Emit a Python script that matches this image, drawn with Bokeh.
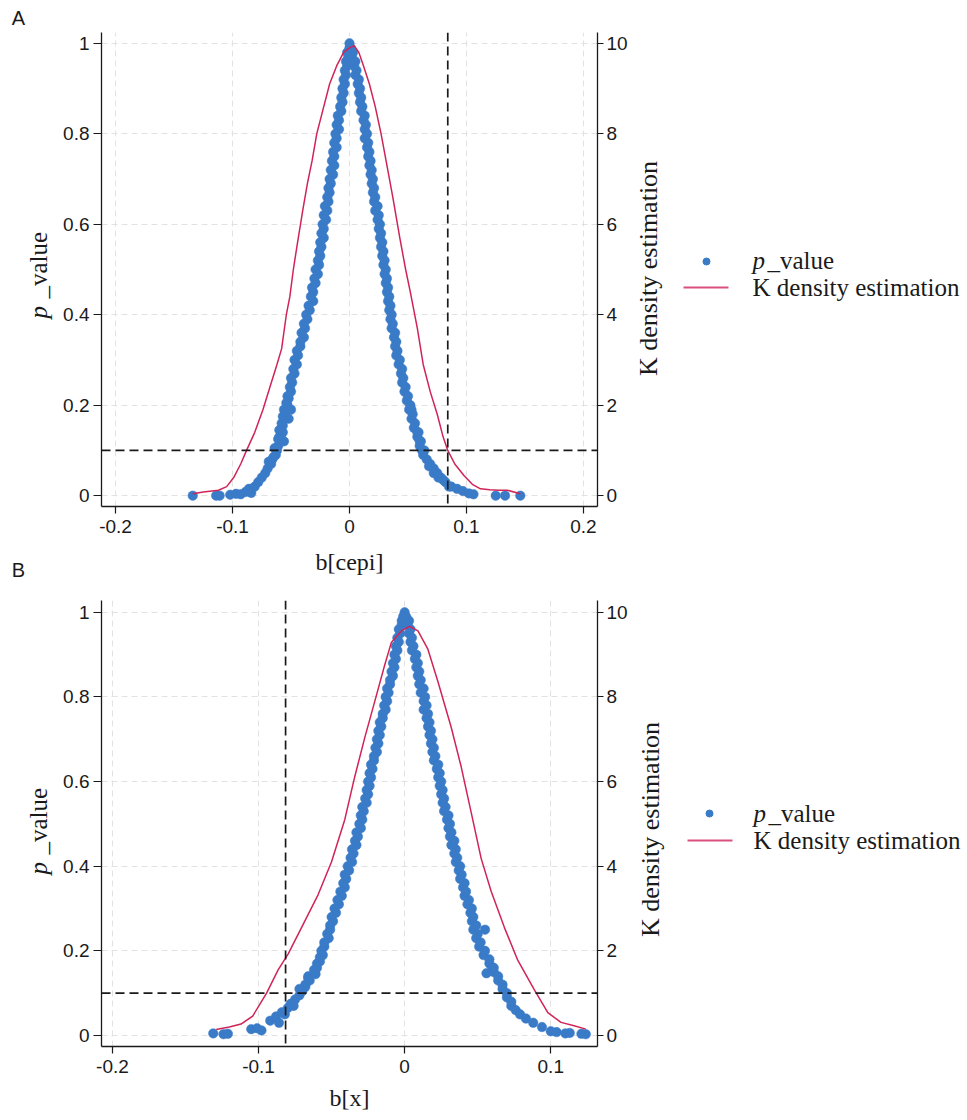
import math
from bokeh.plotting import figure
from bokeh.layouts import column, row
from bokeh.models import Range1d, LinearAxis, FixedTicker, Span
from bokeh.embed import file_html
from bokeh.resources import INLINE
from bokeh.core.properties import value

# ---------------- data: panel A ----------------
a_scatter_x = [-0.134, -0.114, -0.111, -0.102, -0.097, -0.093, -0.089, -0.084, -0.086, -0.081,
               -0.078, -0.075, -0.072, -0.070, -0.067, -0.066, -0.063, -0.062, -0.061, -0.059,
               -0.059, -0.057, -0.057, -0.055, -0.055, -0.053, -0.052, -0.050, -0.049, -0.047,
               -0.045, -0.044, -0.042, -0.039, -0.038, -0.036, -0.034, -0.031, -0.031, -0.029,
               -0.027, -0.026, -0.025, -0.024, -0.022, -0.022, -0.020, -0.019, -0.018, -0.017,
               -0.016, -0.014, -0.013, -0.013, -0.011, -0.011, -0.009, -0.009, -0.007, -0.006,
               -0.005, -0.004, -0.003, -0.002, -0.001, 0.000, 0.000,
               -0.060, -0.056, -0.052, -0.050, -0.065, -0.069,
               0.001, 0.002, 0.004, 0.005, 0.007, 0.008, 0.009, 0.010, 0.012, 0.013,
               0.013, 0.015, 0.016, 0.017, 0.018, 0.019, 0.020, 0.021, 0.022, 0.024,
               0.025, 0.026, 0.027, 0.028, 0.029, 0.030, 0.031, 0.032, 0.033, 0.034,
               0.035, 0.036, 0.038, 0.039, 0.040, 0.042, 0.044, 0.045, 0.047, 0.049,
               0.051, 0.053, 0.055, 0.058, 0.060, 0.062, 0.063, 0.066, 0.069, 0.072,
               0.075, 0.078, 0.082, 0.087, 0.092, 0.097, 0.102, 0.106,
               0.060, 0.064, 0.058, 0.053, 0.068, 0.072, 0.076, 0.085, 0.080,
               0.125, 0.133, 0.146]
a_scatter_p = [0.000, 0.000, 0.000, 0.002, 0.004, 0.003, 0.008, 0.006, 0.015, 0.020,
               0.03, 0.04, 0.05, 0.06, 0.07, 0.08, 0.09, 0.10, 0.11, 0.12,
               0.13, 0.14, 0.155, 0.17, 0.185, 0.20, 0.215, 0.23, 0.25, 0.27,
               0.29, 0.31, 0.33, 0.35, 0.37, 0.39, 0.41, 0.43, 0.45, 0.47,
               0.49, 0.51, 0.53, 0.55, 0.57, 0.59, 0.61, 0.63, 0.65, 0.67,
               0.69, 0.71, 0.73, 0.75, 0.77, 0.79, 0.81, 0.83, 0.85, 0.87,
               0.89, 0.91, 0.93, 0.95, 0.97, 0.99, 1.00,
               0.13, 0.12, 0.17, 0.19, 0.085, 0.075,
               0.99, 0.97, 0.95, 0.93, 0.91, 0.89, 0.87, 0.85, 0.83, 0.81,
               0.79, 0.77, 0.75, 0.73, 0.71, 0.69, 0.67, 0.65, 0.63, 0.61,
               0.59, 0.57, 0.55, 0.53, 0.51, 0.49, 0.47, 0.45, 0.43, 0.41,
               0.39, 0.37, 0.35, 0.33, 0.31, 0.29, 0.27, 0.25, 0.23, 0.21,
               0.19, 0.17, 0.15, 0.13, 0.11, 0.10, 0.09, 0.08, 0.07, 0.06,
               0.05, 0.04, 0.03, 0.02, 0.015, 0.01, 0.005, 0.003,
               0.12, 0.10, 0.14, 0.19, 0.065, 0.05, 0.04, 0.02, 0.035,
               0.000, 0.000, 0.000]
# outer edge of the dense band (panel A)
a_band_x = [-0.053, -0.051, -0.050, -0.048, -0.047, -0.045, -0.042, -0.041, -0.039, -0.037,
            -0.035, -0.033, -0.032, -0.030, -0.029, -0.027, -0.026, -0.025, -0.024, -0.023,
            -0.022, -0.021, -0.019, -0.018, -0.017, -0.016, -0.015, -0.014, -0.013, -0.012,
            -0.011, -0.010, -0.008, -0.007, -0.006, -0.005, -0.004, -0.003, -0.002,
            -0.064, -0.061, -0.060, -0.058, -0.057, -0.056, -0.054,
            0.003, 0.005, 0.006, 0.008, 0.009, 0.010, 0.011, 0.013, 0.014, 0.015,
            0.016, 0.017, 0.018, 0.019, 0.020, 0.021, 0.022, 0.024, 0.025, 0.026,
            0.027, 0.028, 0.029, 0.030, 0.031, 0.032, 0.033, 0.034, 0.035, 0.036,
            0.037, 0.039, 0.040, 0.041, 0.043, 0.045, 0.046, 0.048, 0.050, 0.052,
            0.054, 0.056, 0.059, 0.061]
a_band_p = [0.22, 0.24, 0.26, 0.28, 0.30, 0.32, 0.34, 0.36, 0.38, 0.40,
            0.42, 0.44, 0.46, 0.48, 0.50, 0.52, 0.54, 0.56, 0.58, 0.60,
            0.62, 0.64, 0.66, 0.68, 0.70, 0.72, 0.74, 0.76, 0.78, 0.80,
            0.82, 0.84, 0.86, 0.88, 0.90, 0.92, 0.94, 0.96, 0.98,
            0.105, 0.125, 0.145, 0.16, 0.175, 0.19, 0.205,
            0.98, 0.96, 0.94, 0.92, 0.90, 0.88, 0.86, 0.84, 0.82, 0.80,
            0.78, 0.76, 0.74, 0.72, 0.70, 0.68, 0.66, 0.64, 0.62, 0.60,
            0.58, 0.56, 0.54, 0.52, 0.50, 0.48, 0.46, 0.44, 0.42, 0.40,
            0.38, 0.36, 0.34, 0.32, 0.30, 0.28, 0.26, 0.24, 0.22, 0.20,
            0.18, 0.16, 0.14, 0.12]
a_kde_x = [-0.134, -0.125, -0.112, -0.105, -0.099, -0.093, -0.088, -0.081, -0.074, -0.068,
           -0.062, -0.058, -0.054, -0.051, -0.048, -0.045, -0.040, -0.036, -0.032, -0.028,
           -0.022, -0.017, -0.011, -0.005, 0.000, 0.004, 0.008, 0.012, 0.017, 0.022,
           0.027, 0.032, 0.037, 0.043, 0.048, 0.052, 0.058, 0.063, 0.069, 0.075,
           0.080, 0.084, 0.090, 0.098, 0.105, 0.112, 0.120, 0.128, 0.135, 0.146]
a_kde_d = [0.04, 0.08, 0.12, 0.20, 0.40, 0.70, 1.00, 1.40, 1.90, 2.40,
           2.90, 3.25, 4.00, 4.40, 5.00, 5.50, 6.30, 6.90, 7.40, 8.00,
           8.60, 9.10, 9.50, 9.80, 9.90, 9.95, 9.80, 9.50, 9.10, 8.60,
           8.00, 7.30, 6.60, 5.70, 5.00, 4.50, 3.70, 2.90, 2.30, 1.80,
           1.30, 1.00, 0.70, 0.44, 0.25, 0.15, 0.13, 0.12, 0.12, 0.04]
a_x_ticks = [-0.2, -0.1, 0.0, 0.1, 0.2]
a_x_labels = ["-0.2", "-0.1", "0", "0.1", "0.2"]
a_vline = 0.084
a_xtitle = "b[cepi]"

# ---------------- data: panel B ----------------
b_scatter_x = [-0.131, -0.124, -0.121, -0.105, -0.101, -0.098,
               -0.092, -0.088, -0.086, -0.084, -0.080, -0.082, -0.078, -0.075, -0.076, -0.072,
               -0.070, -0.072, -0.068, -0.065, -0.066, -0.061, -0.060, -0.058, -0.056, -0.055,
               -0.052, -0.051, -0.049, -0.047, -0.045, -0.043, -0.041, -0.040, -0.038, -0.036,
               -0.035, -0.033, -0.032, -0.030, -0.029, -0.028, -0.026, -0.025, -0.024, -0.023,
               -0.022, -0.021, -0.019, -0.018, -0.017, -0.016, -0.015, -0.013, -0.012, -0.011,
               -0.010, -0.008, -0.007, -0.006, -0.005, -0.004, -0.003, -0.002, -0.001, 0.000,
               0.001, 0.002, 0.003, 0.004, 0.005, 0.007, 0.008, 0.009, 0.010, 0.011,
               0.013, 0.013, 0.015, 0.016, 0.017, 0.018, 0.019, 0.020, 0.022, 0.023,
               0.024, 0.025, 0.026, 0.027, 0.029, 0.030, 0.031, 0.032, 0.034, 0.035,
               0.037, 0.038, 0.040, 0.041, 0.043, 0.045, 0.046, 0.047, 0.049, 0.051,
               0.054, 0.058, 0.061, 0.064, 0.067, 0.070, 0.073, 0.076, 0.079, 0.083,
               0.088, 0.094, 0.100, 0.104, 0.110, 0.113, 0.121, 0.124,
               0.056, 0.055, 0.060]
b_scatter_p = [0.005, 0.003, 0.004, 0.015, 0.017, 0.012,
               0.035, 0.045, 0.030, 0.055, 0.065, 0.050, 0.075, 0.085, 0.070, 0.095,
               0.105, 0.110, 0.115, 0.130, 0.140, 0.145, 0.160, 0.175, 0.190, 0.210,
               0.23, 0.25, 0.27, 0.29, 0.31, 0.33, 0.35, 0.37, 0.39, 0.41,
               0.43, 0.45, 0.47, 0.49, 0.51, 0.53, 0.55, 0.57, 0.59, 0.61,
               0.63, 0.65, 0.67, 0.69, 0.71, 0.73, 0.75, 0.77, 0.79, 0.81,
               0.83, 0.85, 0.87, 0.89, 0.91, 0.93, 0.95, 0.97, 0.99, 1.00,
               0.99, 0.97, 0.95, 0.93, 0.91, 0.89, 0.87, 0.85, 0.83, 0.81,
               0.79, 0.77, 0.75, 0.73, 0.71, 0.69, 0.67, 0.65, 0.63, 0.61,
               0.59, 0.57, 0.55, 0.53, 0.51, 0.49, 0.47, 0.45, 0.43, 0.41,
               0.39, 0.37, 0.35, 0.33, 0.31, 0.29, 0.27, 0.25, 0.23, 0.21,
               0.19, 0.17, 0.15, 0.13, 0.11, 0.09, 0.07, 0.06, 0.05, 0.04,
               0.03, 0.02, 0.01, 0.008, 0.005, 0.006, 0.004, 0.003,
               0.147, 0.25, 0.16]
# outer edge of the dense band (panel B)
b_band_x = [-0.055, -0.053, -0.051, -0.050, -0.048, -0.046, -0.044, -0.042, -0.041, -0.039,
            -0.037, -0.036, -0.034, -0.033, -0.031, -0.030, -0.029, -0.027, -0.026, -0.025,
            -0.024, -0.023, -0.021, -0.020, -0.019, -0.018, -0.017, -0.015, -0.014, -0.013,
            -0.012, -0.010, -0.009, -0.008, -0.007, -0.006, -0.005, -0.004, -0.002,
            -0.068, -0.066, -0.062, -0.060, -0.058, -0.057,
            0.003, 0.004, 0.005, 0.006, 0.008, 0.009, 0.010, 0.011, 0.013, 0.014,
            0.015, 0.016, 0.017, 0.018, 0.019, 0.020, 0.021, 0.023, 0.024, 0.025,
            0.026, 0.027, 0.028, 0.030, 0.031, 0.032, 0.034, 0.035, 0.036, 0.038,
            0.039, 0.041, 0.042, 0.044, 0.046, 0.047, 0.049, 0.050, 0.052, 0.055,
            0.058, 0.061, 0.064, 0.067, 0.070, 0.073]
b_band_p = [0.22, 0.24, 0.26, 0.28, 0.30, 0.32, 0.34, 0.36, 0.38, 0.40,
            0.42, 0.44, 0.46, 0.48, 0.50, 0.52, 0.54, 0.56, 0.58, 0.60,
            0.62, 0.64, 0.66, 0.68, 0.70, 0.72, 0.74, 0.76, 0.78, 0.80,
            0.82, 0.84, 0.86, 0.88, 0.90, 0.92, 0.94, 0.96, 0.98,
            0.12, 0.135, 0.155, 0.17, 0.185, 0.20,
            0.98, 0.96, 0.94, 0.92, 0.90, 0.88, 0.86, 0.84, 0.82, 0.80,
            0.78, 0.76, 0.74, 0.72, 0.70, 0.68, 0.66, 0.64, 0.62, 0.60,
            0.58, 0.56, 0.54, 0.52, 0.50, 0.48, 0.46, 0.44, 0.42, 0.40,
            0.38, 0.36, 0.34, 0.32, 0.30, 0.28, 0.26, 0.24, 0.22, 0.20,
            0.18, 0.16, 0.14, 0.12, 0.10, 0.08]
b_kde_x = [-0.129, -0.120, -0.112, -0.104, -0.0945, -0.0866, -0.0797, -0.0706, -0.0592, -0.0501,
           -0.041, -0.0342, -0.0273, -0.0205, -0.0137, -0.0091, -0.0023, 0.0034, 0.0091, 0.0159,
           0.0228, 0.0319, 0.0387, 0.0456, 0.0524, 0.0592, 0.0683, 0.0774, 0.0888, 0.098,
           0.107, 0.116, 0.124]
b_kde_d = [0.14, 0.20, 0.27, 0.46, 1.00, 1.55, 1.93, 2.55, 3.33, 4.10,
           5.10, 6.11, 7.04, 7.89, 8.75, 9.29, 9.56, 9.67, 9.56, 9.13,
           8.36, 7.28, 6.35, 5.26, 4.18, 3.41, 2.55, 1.78, 1.08, 0.54,
           0.31, 0.23, 0.15]
b_x_ticks = [-0.2, -0.1, 0.0, 0.1]
b_x_labels = ["-0.2", "-0.1", "0", "0.1"]
b_vline = -0.0815
b_xtitle = "b[x]"

p_ticks = [0, 0.2, 0.4, 0.6, 0.8, 1]
p_labels = ["0", "0.2", "0.4", "0.6", "0.8", "1"]
d_ticks = [0, 2, 4, 6, 8, 10]
hline = 0.1

ytitle_parts = ["p", "_value"]
y2title = "K density estimation"
legend_labels = ["p", "_value", "K density estimation"]
panel_letters = ["A", "B"]

BLUE = "#3a7bc8"
RED = "#d02458"
INK = "#1a1a1a"
SANS = "Liberation Sans"
SERIF = "Liberation Serif"
PI2 = math.pi / 2

STRIP_W, MAIN_L, FRAME_W, MAIN_R, SIDE_W = 60, 41, 496, 35, 330


def style_axis(ax, ticks=None, labels=None):
    ax.axis_line_color = INK
    ax.axis_line_width = 1.3
    ax.major_tick_line_color = INK
    ax.major_tick_line_width = 1.2
    ax.major_tick_out = 7
    ax.major_tick_in = 0
    ax.minor_tick_out = 0
    ax.minor_tick_in = 0
    ax.major_label_text_font = SANS
    ax.major_label_text_font_size = "19px"
    ax.major_label_text_color = INK
    if ticks is not None:
        ax.ticker = FixedTicker(ticks=ticks)
    if labels is not None:
        ax.major_label_overrides = {t: l for t, l in zip(ticks, labels)}


def blank_fig(w, mt, fh, mb, yr):
    f = figure(frame_width=w, frame_height=fh, x_range=Range1d(0, w), y_range=Range1d(0, yr),
               min_border_left=0, min_border_right=0, min_border_top=mt, min_border_bottom=mb,
               x_axis_location=None, y_axis_location=None, toolbar_location=None,
               outline_line_color=None, output_backend="svg",
               background_fill_color="white", border_fill_color="white")
    f.grid.visible = False
    return f


def letter_axis(f, side, letter, standoff):
    ax = LinearAxis(ticker=FixedTicker(ticks=[18]), major_label_overrides={18: letter})
    ax.axis_line_color = None
    ax.major_tick_line_color = None
    ax.major_tick_out = 0
    ax.major_tick_in = 0
    ax.minor_tick_out = 0
    ax.minor_tick_in = 0
    ax.major_label_standoff = standoff
    ax.major_label_text_font = SANS
    ax.major_label_text_font_size = "20px"
    ax.major_label_text_color = INK
    f.add_layout(ax, side)


def make_strip(mt, fh, mb, p_y, v_y, top_letter=None, bottom_letter=None):
    s = blank_fig(STRIP_W, mt, fh, mb, fh)
    s.text([38], [p_y], text=[ytitle_parts[0]], angle=PI2, text_align="left",
           text_baseline="middle", text_font=value(SERIF), text_font_size="25px",
           text_font_style="italic", text_color=INK)
    s.text([38], [v_y], text=[ytitle_parts[1]], angle=PI2, text_align="left",
           text_baseline="middle", text_font=value(SERIF), text_font_size="25px",
           text_color=INK)
    if top_letter:
        letter_axis(s, "above", top_letter, 4)
    if bottom_letter:
        letter_axis(s, "below", bottom_letter, 52)
    return s


def make_side(mt, fh, mb, title_xy, dot_xy, line_y, lx0, lx1, tx, ty_top, ty_bot):
    s = blank_fig(SIDE_W, mt, fh, mb, fh)
    s.text([title_xy[0]], [title_xy[1]], text=[y2title], angle=PI2, text_align="center",
           text_baseline="middle", text_font=value(SERIF), text_font_size="26px",
           text_color=INK)
    s.scatter([dot_xy[0]], [dot_xy[1]], size=7, fill_color=BLUE, line_color=BLUE)
    s.line([lx0, lx1], [line_y, line_y], line_color="#d9507e", line_width=1.8)
    s.text([tx], [ty_top], text=[legend_labels[0]], text_font=value(SERIF),
           text_font_size="25px", text_font_style="italic", text_baseline="middle",
           text_color=INK)
    s.text([tx + 15], [ty_top], text=[legend_labels[1]], text_font=value(SERIF),
           text_font_size="25px", text_baseline="middle", text_color=INK)
    s.text([tx], [ty_bot], text=[legend_labels[2]], text_font=value(SERIF),
           text_font_size="25px", text_baseline="middle", text_color=INK)
    return s


def make_main(sx, sp, kx, kd, xr, yr, xticks, xlabels, vline, xtitle, mt, fh, mb, title_standoff):
    p = figure(frame_width=FRAME_W, frame_height=fh,
               x_range=Range1d(*xr), y_range=Range1d(*yr),
               min_border_left=MAIN_L, min_border_right=MAIN_R,
               min_border_top=mt, min_border_bottom=mb,
               output_backend="svg", toolbar_location=None,
               outline_line_color=None, background_fill_color="white",
               border_fill_color="white")
    p.extra_y_ranges = {"dens": Range1d(yr[0] * 10, yr[1] * 10)}
    right = LinearAxis(y_range_name="dens")
    p.add_layout(right, "right")

    xa = p.xaxis[0]
    style_axis(xa, xticks, xlabels)
    xa.major_label_standoff = 6
    xa.axis_label = xtitle
    xa.axis_label_text_font = SERIF
    xa.axis_label_text_font_size = "24px"
    xa.axis_label_text_font_style = "normal"
    xa.axis_label_text_color = INK
    xa.axis_label_standoff = title_standoff
    style_axis(p.yaxis[0], p_ticks, p_labels)
    p.yaxis[0].major_label_standoff = 4
    p.yaxis[0].major_tick_out = 8
    style_axis(right, d_ticks, [str(t) for t in d_ticks])
    right.major_tick_out = 6
    right.major_label_standoff = 3

    for g in (p.xgrid[0], p.ygrid[0]):
        g.grid_line_color = "#e2e2e2"
        g.grid_line_dash = "6 4"
        g.grid_line_width = 1
    p.xgrid[0].ticker = FixedTicker(ticks=xticks)
    p.ygrid[0].ticker = FixedTicker(ticks=p_ticks)

    p.add_layout(Span(location=hline, dimension="width", line_color=INK,
                      line_dash="9 5", line_width=1.7))
    p.add_layout(Span(location=vline, dimension="height", line_color=INK,
                      line_dash="9 5", line_width=1.7))

    p.scatter(sx, sp, size=9.5, fill_color=BLUE, line_color=BLUE, line_width=0.5)
    p.line(kx, kd, y_range_name="dens", line_color=RED, line_width=1.5)
    return p


# row A: frame y 32..506 ; row B: frame y 600..1046
A_MT, A_FH, A_MB = 32, 474, 82
B_MT, B_FH, B_MB = 12, 446, 68

pa = make_main(a_scatter_x + a_band_x, a_scatter_p + a_band_p, a_kde_x, a_kde_d,
               (-0.212, 0.212), (-0.024, 1.024),
               a_x_ticks, a_x_labels, a_vline, a_xtitle, A_MT, A_FH, A_MB, 13)
pb = make_main(b_scatter_x + b_band_x, b_scatter_p + b_band_p, b_kde_x, b_kde_d,
               (-0.2075, 0.132), (-0.026, 1.028),
               b_x_ticks, b_x_labels, b_vline, b_xtitle, B_MT, B_FH, B_MB, 9)

sa = make_strip(A_MT, A_FH, A_MB, 506 - 318, 506 - 298,
                top_letter=panel_letters[0], bottom_letter=panel_letters[1])
sb = make_strip(B_MT, B_FH, B_MB, 1046 - 874, 1046 - 854)

ra = make_side(A_MT, A_FH, A_MB, (16, 506 - 268), (74, 506 - 261), 506 - 287, 51, 96,
               120, 506 - 260, 506 - 287)
rb = make_side(B_MT, B_FH, B_MB, (18, 1046 - 829), (77, 1046 - 813), 1046 - 840, 55, 100,
               121, 1046 - 813, 1046 - 840)

layout = column(row(sa, pa, ra, spacing=0), row(sb, pb, rb, spacing=0), spacing=0)

open("out.html", "w").write(file_html(layout, INLINE))
